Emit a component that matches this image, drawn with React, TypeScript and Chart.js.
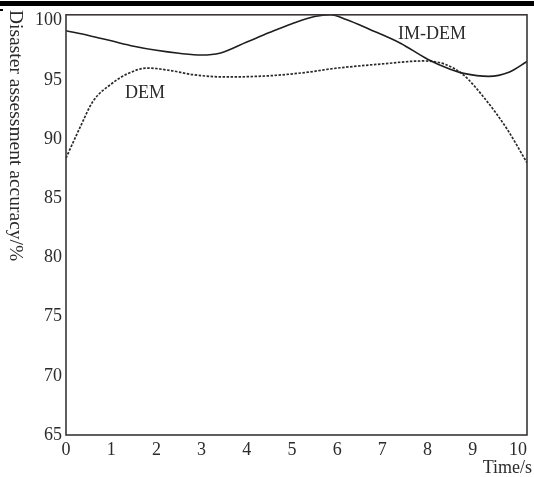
import React, { useEffect, useRef } from "react";
import { Chart, registerables } from "chart.js";

Chart.register(...registerables);

const timesIM = [0, 0.5, 1, 1.5, 2, 2.5, 3, 3.4, 4, 4.5, 5, 5.5, 5.85, 6.2, 6.7, 7.4, 8, 8.5, 8.8, 9.35, 9.8, 10.2];
const accIM = [99.15, 98.75, 98.3, 97.85, 97.5, 97.25, 97.1, 97.25, 98.2, 99.0, 99.75, 100.35, 100.5, 100.1, 99.3, 98.1, 96.75, 95.9, 95.55, 95.3, 95.65, 96.55];
const timesDEM = [0, 0.3, 0.6, 1.0, 1.35, 1.8, 2.3, 2.8, 3.5, 4.5, 5.35, 5.9, 7.0, 7.9, 8.4, 8.8, 9.25, 9.75, 10.2];
const accDEM = [88.4, 90.9, 93.2, 94.65, 95.5, 96.0, 95.8, 95.45, 95.25, 95.35, 95.65, 95.95, 96.35, 96.6, 96.3, 95.4, 93.5, 90.9, 88.0];
const seriesNames = ["IM-DEM", "DEM"];
const yTitle = "Disaster assessment accuracy/%";
const xTitle = "Time/s";

const FONT = '"Liberation Serif", "Times New Roman", serif';
const TXT = "#2b2b2b";

export default function App() {
  const ref = useRef<HTMLCanvasElement | null>(null);
  useEffect(() => {
    const canvas = ref.current;
    if (!canvas) return;
    const deco = {
      id: "deco",
      afterDraw(chart: any) {
        const ctx = chart.ctx;
        const a = chart.chartArea;
        const xs = chart.scales.x;
        const ys = chart.scales.y;
        ctx.save();
        // top bar
        ctx.fillStyle = "#000";
        ctx.fillRect(0, 1, 534, 5);
        ctx.fillRect(0, 9, 3, 2);
        // frame
        ctx.strokeStyle = "#3a3636";
        ctx.lineWidth = 1.6;
        ctx.strokeRect(a.left, a.top, a.right - a.left, a.bottom - a.top);
        ctx.fillStyle = TXT;
        ctx.font = `18px ${FONT}`;
        // series labels
        ctx.textAlign = "center";
        ctx.textBaseline = "middle";
        ctx.fillText(seriesNames[0], xs.getPixelForValue(8.1), ys.getPixelForValue(98.82));
        ctx.fillText(seriesNames[1], xs.getPixelForValue(1.75), ys.getPixelForValue(93.85));
        // x title
        ctx.textAlign = "right";
        ctx.fillText(xTitle, 532, 468);
        // y title (reads top to bottom)
        ctx.font = `19.5px ${FONT}`;
        ctx.translate(15, 10);
        ctx.rotate(Math.PI / 2);
        ctx.textAlign = "left";
        ctx.textBaseline = "middle";
        ctx.fillText(yTitle, 0, 0);
        ctx.restore();
      },
    };
    const chart = new Chart(canvas, {
      type: "line",
      data: {
        datasets: [
          {
            label: seriesNames[0],
            data: timesIM.map((t, i) => ({ x: t, y: accIM[i] })),
            borderColor: "#1e1e1e",
            borderWidth: 1.6,
            pointRadius: 0,
            cubicInterpolationMode: "monotone",
            fill: false,
          },
          {
            label: seriesNames[1],
            data: timesDEM.map((t, i) => ({ x: t, y: accDEM[i] })),
            borderColor: "#2a2a2a",
            borderWidth: 1.7,
            borderDash: [2.5, 1.5],
            pointRadius: 0,
            cubicInterpolationMode: "monotone",
            fill: false,
          },
        ],
      },
      options: {
        animation: false,
        responsive: false,
        maintainAspectRatio: false,
        layout: { padding: { top: 13, right: 7, left: 0, bottom: 0 } },
        plugins: { legend: { display: false }, tooltip: { enabled: false } },
        scales: {
          x: {
            type: "linear",
            min: 0,
            max: 10.2,
            grid: { display: false, drawTicks: false },
            border: { display: false },
            ticks: {
              stepSize: 1,
              includeBounds: false,
              padding: 4,
              color: TXT,
              font: { family: FONT, size: 18 },
              maxRotation: 0,
              autoSkip: false,
            },
            afterFit: (s: any) => {
              s.height = 42;
            },
          },
          y: {
            type: "linear",
            min: 65,
            max: 100.5,
            grid: { display: false, drawTicks: false },
            border: { display: false },
            ticks: {
              stepSize: 5,
              includeBounds: false,
              padding: 4,
              color: TXT,
              font: { family: FONT, size: 18 },
            },
            afterFit: (s: any) => {
              s.width = 66;
            },
          },
        },
      },
      plugins: [deco],
    } as any);
    return () => chart.destroy();
  }, []);
  return (
    <div style={{ position: "fixed", left: 0, top: 0, width: 534, height: 477, background: "#fff" }}>
      <canvas ref={ref} width={534} height={477} style={{ display: "block", width: 534, height: 477 }} />
    </div>
  );
}
